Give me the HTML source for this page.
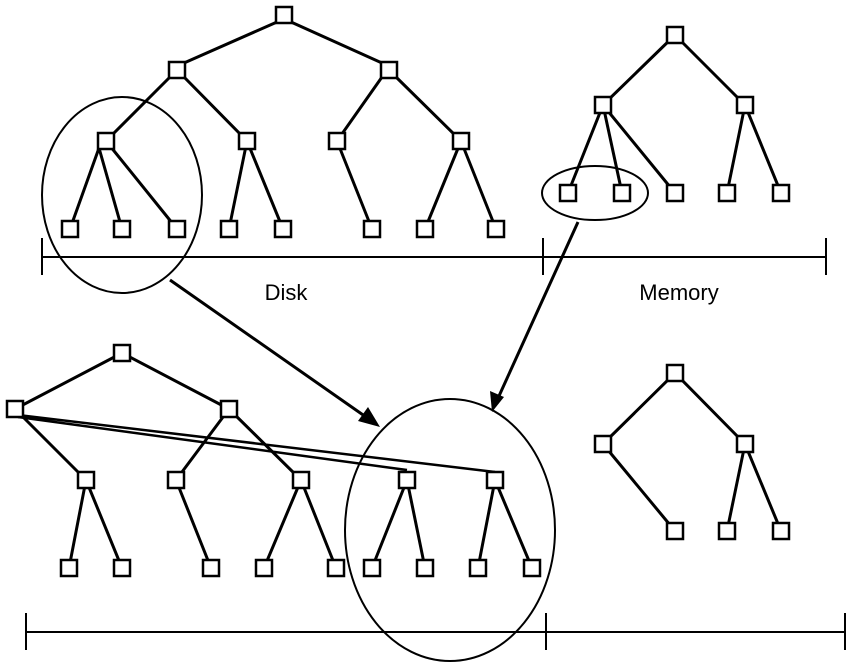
<!DOCTYPE html>
<html><head><style>body{margin:0;background:#fff}svg{display:block}</style></head><body>
<svg width="850" height="671" viewBox="0 0 850 671" xmlns="http://www.w3.org/2000/svg">
<g stroke="#000" stroke-width="3" fill="none">
<path d="M277 22L184 63M291 22L382 63M170 77L106 141M184 77L247 141M382 77L337 141M396 77L461 141
M99 148L70 229M99 148L122 229M106 141L177 229M247 141L229 229M247 141L283 229M337 141L372 229M461 141L425 229M461 141L496 229"/>
<path d="M675 35L603 105M675 35L745 105M603 105L568 193M603 105L622 193M603 105L675 193M745 105L727 193M745 105L781 193"/>
<path d="M122 353L15 409M122 353L229 409M15 409L86 480M229 409L176 480M229 409L301 480
M86 480L69 568M86 480L122 568M176 480L211 568M301 480L264 568M301 480L336 568M407 480L372 568M407 480L425 568M495 480L478 568M495 480L532 568"/>
<path d="M18 417L407 470M18 415L495 472" stroke-width="2.5"/>
<path d="M675 373L603 444M675 373L745 444M603 444L675 531M745 444L727 531M745 444L781 531"/>
</g>
<g stroke="#000" stroke-width="2.5" fill="#fff">
<rect x="276" y="7" width="16" height="16"/>
<rect x="169" y="62" width="16" height="16"/><rect x="381" y="62" width="16" height="16"/>
<rect x="98" y="133" width="16" height="16"/><rect x="239" y="133" width="16" height="16"/><rect x="329" y="133" width="16" height="16"/><rect x="453" y="133" width="16" height="16"/>
<rect x="62" y="221" width="16" height="16"/><rect x="114" y="221" width="16" height="16"/><rect x="169" y="221" width="16" height="16"/><rect x="221" y="221" width="16" height="16"/><rect x="275" y="221" width="16" height="16"/><rect x="364" y="221" width="16" height="16"/><rect x="417" y="221" width="16" height="16"/><rect x="488" y="221" width="16" height="16"/>
<rect x="667" y="27" width="16" height="16"/>
<rect x="595" y="97" width="16" height="16"/><rect x="737" y="97" width="16" height="16"/>
<rect x="560" y="185" width="16" height="16"/><rect x="614" y="185" width="16" height="16"/><rect x="667" y="185" width="16" height="16"/><rect x="719" y="185" width="16" height="16"/><rect x="773" y="185" width="16" height="16"/>
<rect x="114" y="345" width="16" height="16"/>
<rect x="7" y="401" width="16" height="16"/><rect x="221" y="401" width="16" height="16"/>
<rect x="78" y="472" width="16" height="16"/><rect x="168" y="472" width="16" height="16"/><rect x="293" y="472" width="16" height="16"/><rect x="399" y="472" width="16" height="16"/><rect x="487" y="472" width="16" height="16"/>
<rect x="61" y="560" width="16" height="16"/><rect x="114" y="560" width="16" height="16"/><rect x="203" y="560" width="16" height="16"/><rect x="256" y="560" width="16" height="16"/><rect x="328" y="560" width="16" height="16"/><rect x="364" y="560" width="16" height="16"/><rect x="417" y="560" width="16" height="16"/><rect x="470" y="560" width="16" height="16"/><rect x="524" y="560" width="16" height="16"/>
<rect x="667" y="365" width="16" height="16"/>
<rect x="595" y="436" width="16" height="16"/><rect x="737" y="436" width="16" height="16"/>
<rect x="667" y="523" width="16" height="16"/><rect x="719" y="523" width="16" height="16"/><rect x="773" y="523" width="16" height="16"/>
</g>
<g stroke="#000" stroke-width="2" fill="none">
<ellipse cx="122" cy="195" rx="80" ry="98"/>
<ellipse cx="595" cy="193" rx="53" ry="27"/>
<ellipse cx="450" cy="530" rx="105" ry="131"/>
<path d="M42 257H826M42 238V275M543 238V275M826 238V275"/>
<path d="M26 632H845M26 613V650M546 613V650M845 613V650"/>
</g>
<g stroke="#000" stroke-width="3">
<path d="M170 280L366 417M578 222L499 396"/>
</g>
<polygon points="380,427 358,421 368,407" fill="#000"/>
<polygon points="492,412 490,391 504,397" fill="#000"/>
<g font-family="Liberation Sans, sans-serif" font-size="22" fill="#000" text-anchor="middle">
<text x="286" y="300">Disk</text>
<text x="679" y="300">Memory</text>
</g>
</svg>
</body></html>
